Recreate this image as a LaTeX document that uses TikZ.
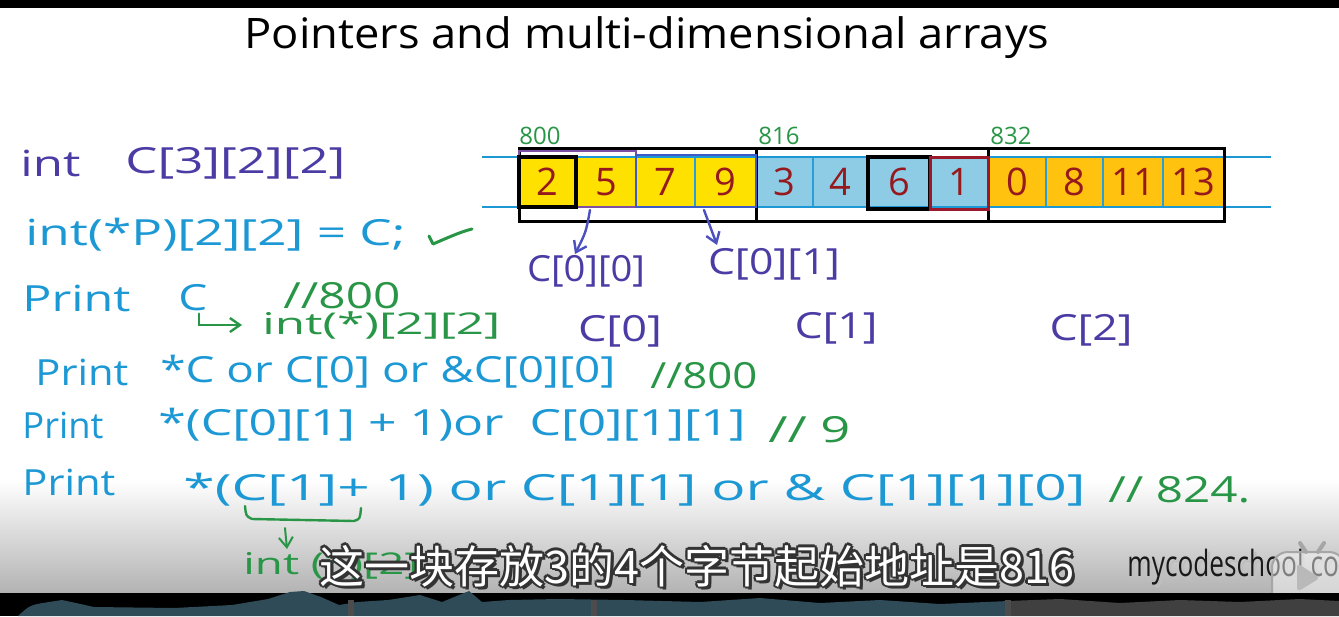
\documentclass[tikz,border=0pt]{standalone}
\usepackage{fontspec}
\usepackage{graphicx}
\setmainfont{Open Sans}
\newfontfamily\cjk{Noto Sans CJK SC}
\usetikzlibrary{arrows.meta,calc}
\definecolor{purpleC}{RGB}{75,60,165}
\definecolor{blueC}{RGB}{28,152,212}
\definecolor{greenC}{RGB}{40,150,70}
\definecolor{maroonC}{RGB}{150,25,30}
\definecolor{yelC}{RGB}{255,225,0}
\definecolor{lblueC}{RGB}{142,204,230}
\definecolor{orngC}{RGB}{255,194,14}
\definecolor{cellC}{RGB}{40,160,215}
\definecolor{arrC}{RGB}{75,80,190}
\definecolor{boxPC}{RGB}{125,80,165}
\definecolor{boxBC}{RGB}{60,90,200}
\definecolor{redboxC}{RGB}{155,25,40}
\definecolor{waveC}{RGB}{46,75,87}
\newcommand\fitw[2]{\resizebox{#1pt}{\height}{#2}}
\begin{document}
\begin{tikzpicture}[x=0.5pt,y=-0.5pt,
  code/.style={inner sep=0pt, anchor=west, font=\fontsize{18}{20}\selectfont},
  small/.style={inner sep=0pt, anchor=west, font=\fontsize{15}{17}\selectfont},
  addr/.style={inner sep=0pt, text=greenC, font=\fontsize{12}{14}\selectfont},
  digit/.style={inner sep=0pt, text=maroonC, font=\fontsize{19}{20}\selectfont},
  lab/.style={inner sep=0pt, text=purpleC, font=\fontsize{18}{20}\selectfont},
  cellbox/.style={draw=cellC, line width=1pt},
  harrow/.style={line width=1.2pt, line cap=round, -{Straight Barb[length=5pt,width=7pt]}},
]
\useasboundingbox (0,0) rectangle (1339,616);
\begin{scope}
\clip (0,0) rectangle (1339,616);
% background
\fill[white] (0,0) rectangle (1339,616);
\shade[top color=white, bottom color=gray!60] (0,480) rectangle (1339,593);
\fill[black] (0,0) rectangle (1339,8);

% title
\node[inner sep=0pt, font=\fontsize{21}{24}\selectfont] (title) at (647,38) {\fitw{402.5}{Pointers and multi-dimensional arrays}};

% array cells
\foreach \a/\b/\v/\c [count=\i] in {519/576/2/yelC,576/636/5/yelC,636/695/7/yelC,695/756/9/yelC,
  756/813/3/lblueC,813/868/4/lblueC,868/930/6/lblueC,930/988/1/lblueC,
  988/1046/0/orngC,1046/1103/8/orngC,1103/1163/11/orngC,1163/1224/13/orngC}{
  \fill[\c] (\a,157) rectangle (\b,207);
  \draw[cellbox] (\a,157) rectangle (\b,207);
  \node[digit] (cell\i) at ({(\a+\b)/2},182) {\v};
}
\draw[blueC, line width=1.2pt] (482,157) -- (1271,157);
\draw[blueC, line width=1.2pt] (482,207) -- (1271,207);
% outer black frame and block separators
\draw[black, line width=1.5pt] (519,148) rectangle (1224,221);
\draw[black, line width=1.5pt] (756,148) -- (756,221);
\draw[black, line width=1.5pt] (988,148) -- (988,221);
% highlight boxes
\draw[boxPC, line width=1pt] (519,151) rectangle (636,207);
\draw[boxBC, line width=1pt] (636,155) rectangle (756,207);
\draw[black, line width=2pt] (519,157) rectangle (576,207);
\draw[black, line width=2pt] (868,157) rectangle (930,209);
\draw[redboxC, line width=1.5pt] (930,157) rectangle (988,209);

% addresses
\node[addr] (a800) at (540,136) {800};
\node[addr] (a816) at (779,136) {816};
\node[addr] (a832) at (1011,136) {832};

% sub-array labels
\node[lab] (l00) at (586,271) {\fitw{59}{C[0][0]}};
\node[lab] (l01) at (774,264) {\fitw{66}{C[0][1]}};
\node[lab] (lc0) at (620,331) {\fitw{42}{C[0]}};
\node[lab] (lc1) at (836,328) {\fitw{41.5}{C[1]}};
\node[lab] (lc2) at (1091,330) {\fitw{41.5}{C[2]}};
\coordinate (s00) at (590,210);
\coordinate (e00) at (575,254);
\coordinate (s01) at (704,210);
\coordinate (e01) at (717,245);
\draw[arrC, harrow] (s00) .. controls (586,232) .. (e00);
\draw[arrC, harrow] (s01) .. controls (710,226) .. (e01);

% left code
\node[code, text=purpleC] (l1a) at (20,163) {\fitw{30}{int}};
\node[code, text=purpleC] (l1b) at (125,163) {\fitw{110}{C[3][2][2]}};
\node[code, text=blueC] (l2) at (25,235) {\fitw{190}{int(*P)[2][2] = C;}};
\draw[greenC, line width=1.5pt, line cap=round, line join=round] (429,236) -- (433,244) .. controls (447,238) and (460,232) .. (472,229);

\node[code, text=blueC] (p3) at (22,298) {\fitw{54}{Print}};
\node[code, text=blueC] (c3) at (178,298) {\fitw{14.5}{C}};
\node[code, text=greenC] (n3) at (283,296) {\fitw{58.5}{//800}};
\node[small, text=greenC] (i3) at (262,325) {\fitw{119}{int(*)[2][2]}};
\draw[greenC, harrow] ($(c3.south)+(6,2)$) |- ($(i3.west)+(-20,0)$);

\node[code, text=blueC] (p4) at (35,372) {\fitw{46.5}{Print}};
\node[code, text=blueC] (e4) at (160,372) {\fitw{227.5}{*C or C[0] or \&C[0][0]}};
\node[code, text=greenC] (n4) at (650,376) {\fitw{53.5}{//800}};

\node[code, text=blueC] (p5) at (22,425) {\fitw{40.5}{Print}};
\node[code, text=blueC] (e5) at (158,425) {\fitw{293.5}{*(C[0][1] + 1)or\ \ C[0][1][1]}};
\node[code, text=greenC] (n5) at (768,430) {\fitw{41}{//\ 9}};

\node[code, text=blueC] (p6) at (22,482) {\fitw{46.5}{Print}};
\node[code, text=blueC] (e6) at (183,490) {\fitw{451}{*(C[1]+ 1) or C[1][1] or \& C[1][1][0]}};
\node[code, text=greenC] (n6) at (1108,490) {\fitw{71}{//\ 824.}};

% underbrace and arrow
\draw[greenC, line width=1.2pt, line cap=round, line join=round] (245,506) .. controls (246,516) .. (252,519) -- (354,521) .. controls (360,519) .. (361,508);
\node[small, text=greenC] (i6) at (243,565) {\fitw{88}{int (*)[2]}};
\coordinate (brc) at (285,528);
\coordinate (bre) at (287,549);
\draw[greenC, harrow, line width=1pt] (brc) -- (bre);

% subtitle
\foreach \dx/\dy [count=\k] in {-2.5/0,2.5/0,0/-2.5,0/2.5,-1.8/-1.8,1.8/-1.8,-1.8/1.8,1.8/1.8,3/3.5}{
  \node[inner sep=0pt, text=black!80, font=\cjk\fontsize{22.5}{24}\selectfont] (subo\k) at ({697+\dx},{566+\dy}) {这一块存放3的4个字节起始地址是816};
}
\node[inner sep=0pt, text=white, font=\cjk\fontsize{22.5}{24}\selectfont] (sub) at (697,566) {这一块存放3的4个字节起始地址是816};

% watermark
\node[inner sep=0pt, anchor=base west, text=black!25, font=\fontsize{18}{20}\selectfont] (wms) at (1130,579) {\fitw{118}{mycodeschool.com}};
\node[inner sep=0pt, anchor=base west, text=black!90, font=\fontsize{18}{20}\selectfont] (wm) at (1127,576) {\fitw{118}{mycodeschool.com}};

% play icon
\fill[white, opacity=0.45, rounded corners=8pt] (1272,552) rectangle (1345,607);
\draw[gray!70, line width=1pt, rounded corners=8pt] (1272,552) rectangle (1345,607);
\draw[gray!70, line width=2pt, line cap=round] (1300,543) -- (1306,552);
\draw[gray!70, line width=2pt, line cap=round] (1324,543) -- (1318,552);
\fill[gray!55, rounded corners=2pt] (1297,563) -- (1320,578) -- (1297,592) -- cycle;

% bottom bar with waveform
\fill[black] (0,593) rectangle (1339,616);
\fill[waveC] (18,616) .. controls (30,605) .. (49,602) -- (62,600) -- (76,603) -- (94,607) -- (174,608) -- (232,605) -- (268,599) -- (290,592) -- (304,591) -- (321,597) -- (339,605) -- (357,602) -- (388,600) -- (420,595) -- (442,602) -- (469,591) -- (482,602) -- (509,600) -- (558,599) -- (625,600) -- (700,602) -- (760,598) -- (820,603) -- (880,600) -- (940,604) -- (1008,601) -- (1008,616) -- cycle;
\fill[black!75] (1008,601) -- (1060,599) -- (1120,603) -- (1180,600) -- (1240,602) -- (1300,599) -- (1339,601) -- (1339,616) -- (1008,616) -- cycle;
\fill[black!70] (348,600) rectangle (354,616);
\fill[black!70] (591,600) rectangle (597,616);
\fill[black!70] (1005,600) rectangle (1011,616);
\end{scope}
\end{tikzpicture}
\end{document}
